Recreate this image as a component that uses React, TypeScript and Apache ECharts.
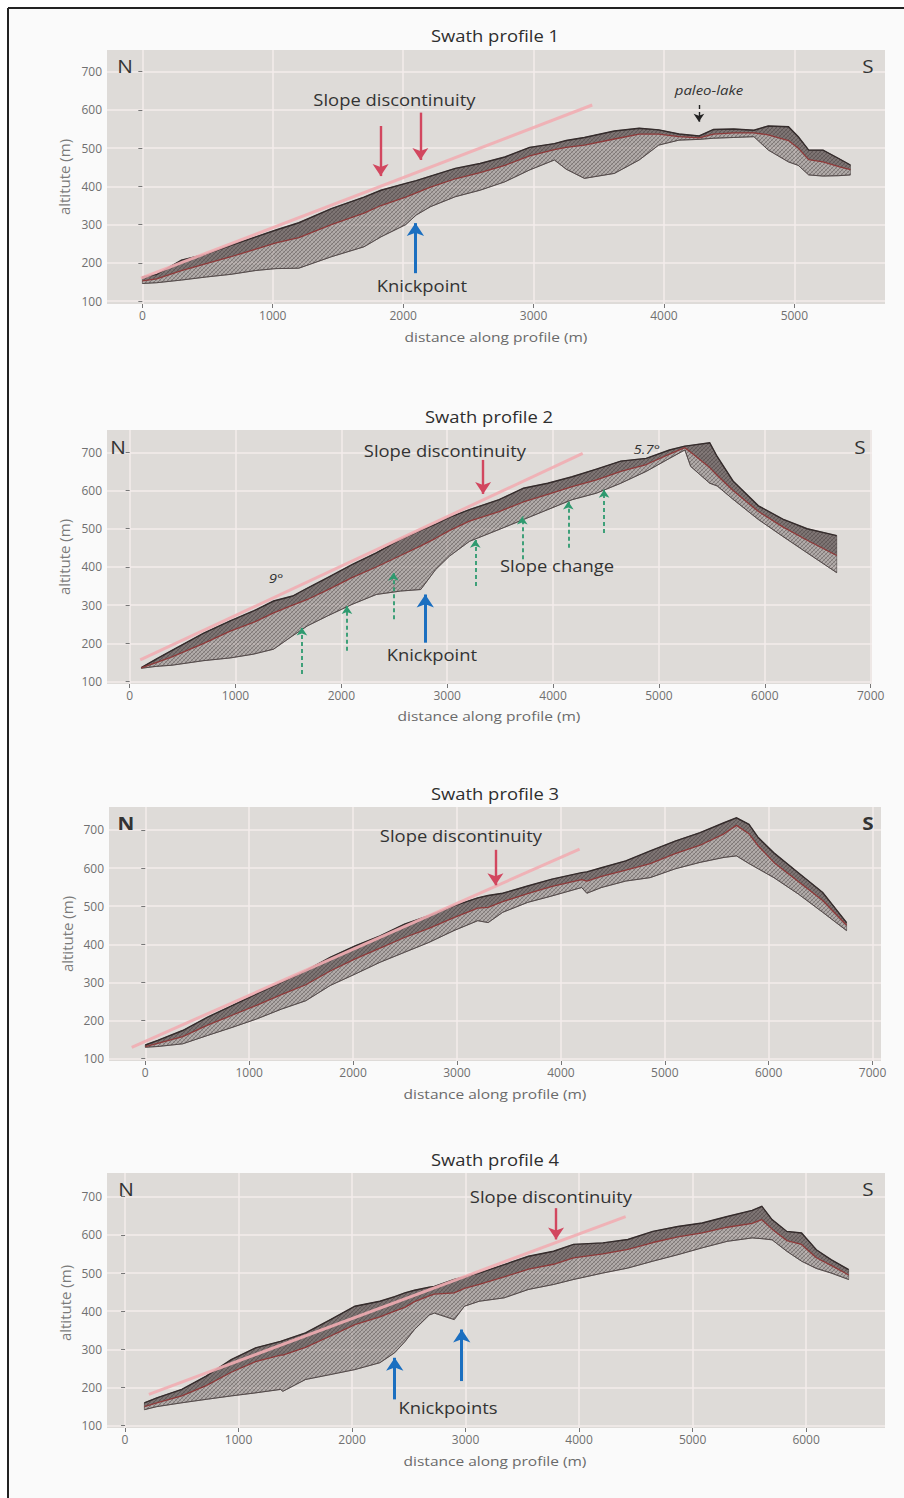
import React, { useEffect, useRef } from "react";
import * as echarts from "echarts";

// ---------------- DATA ----------------
// Swath profile 1
const P1_DIST = [0, 110, 300, 490, 680, 870, 1025, 1200, 1450, 1700, 1830, 2020, 2100, 2210, 2400, 2590, 2780, 2970, 3160, 3250, 3390, 3620, 3810, 3960, 4115, 4270, 4380, 4535, 4690, 4800, 4955, 5030, 5110, 5220, 5340, 5430];
const P1_MAX = [163, 170, 207, 223, 246, 268, 286, 305, 342, 372, 390, 408, 415, 427, 447, 460, 477, 502, 512, 520, 528, 545, 552, 548, 537, 532, 549, 550, 547, 558, 556, 530, 495, 495, 473, 456];
const P1_MIN = [146, 148, 155, 163, 170, 180, 185, 186, 216, 242, 268, 300, 325, 347, 373, 390, 412, 443, 469, 445, 421, 434, 469, 508, 521, 523, 526, 528, 530, 495, 464, 455, 430, 427, 428, 430];
const P1_MEAN = [153, 158, 180, 198, 216, 236, 252, 266, 300, 330, 350, 372, 383, 398, 420, 436, 455, 480, 496, 502, 508, 524, 537, 537, 530, 527, 537, 540, 540, 535, 520, 500, 470, 464, 452, 444];

// Swath profile 2
const P2_DIST = [110, 250, 400, 700, 950, 1170, 1360, 1540, 1680, 1870, 2100, 2330, 2560, 2750, 2890, 3020, 3210, 3490, 3720, 3950, 4180, 4410, 4640, 4880, 5100, 5245, 5300, 5480, 5550, 5700, 5940, 6170, 6400, 6680];
const P2_MAX = [137, 159, 182, 227, 259, 285, 311, 324, 345, 372, 406, 437, 472, 496, 512, 530, 550, 576, 606, 619, 636, 656, 677, 684, 706, 716, 718, 725, 689, 625, 560, 525, 500, 482];
const P2_MIN = [135, 140, 143, 155, 162, 172, 185, 220, 246, 272, 302, 328, 337, 341, 393, 428, 467, 498, 524, 550, 576, 593, 619, 650, 684, 706, 663, 619, 612, 577, 524, 480, 437, 385];
const P2_MEAN = [136, 150, 165, 200, 232, 255, 280, 300, 315, 340, 372, 400, 430, 455, 475, 495, 520, 545, 570, 590, 610, 628, 650, 668, 695, 712, 700, 660, 640, 600, 545, 505, 470, 430];

// Swath profile 3
const P3_DIST = [0, 120, 360, 600, 835, 1070, 1310, 1545, 1780, 2020, 2260, 2495, 2730, 2970, 3200, 3300, 3440, 3680, 3915, 4200, 4250, 4390, 4625, 4860, 5100, 5340, 5570, 5690, 5810, 5900, 6050, 6285, 6520, 6750];
const P3_MAX = [136, 148, 174, 209, 239, 270, 300, 331, 366, 396, 422, 453, 475, 501, 522, 528, 534, 553, 571, 588, 590, 601, 619, 645, 671, 693, 719, 732, 715, 680, 640, 588, 536, 457];
const P3_MIN = [130, 132, 139, 161, 182, 204, 230, 252, 292, 322, 353, 379, 405, 436, 462, 457, 484, 510, 527, 549, 534, 549, 566, 575, 598, 615, 628, 632, 612, 598, 575, 532, 484, 436];
const P3_MEAN = [132, 140, 158, 188, 214, 240, 268, 294, 330, 362, 390, 418, 442, 470, 495, 497, 512, 533, 552, 570, 566, 578, 595, 612, 638, 660, 690, 712, 690, 658, 615, 565, 515, 450];

// Swath profile 4
const P4_DIST = [170, 280, 500, 715, 935, 1150, 1370, 1390, 1590, 1810, 2025, 2245, 2375, 2465, 2550, 2680, 2725, 2900, 2990, 3120, 3340, 3555, 3775, 3950, 4210, 4430, 4650, 4870, 5085, 5305, 5525, 5610, 5700, 5830, 5960, 6090, 6220, 6375];
const P4_MAX = [160, 173, 195, 230, 273, 304, 321, 323, 343, 378, 413, 426, 438, 448, 455, 463, 465, 483, 490, 500, 522, 544, 557, 575, 579, 588, 609, 622, 631, 648, 664, 675, 640, 609, 605, 561, 535, 509];
const P4_MIN = [142, 150, 160, 169, 178, 186, 195, 190, 221, 234, 247, 265, 291, 320, 352, 390, 395, 378, 413, 426, 435, 457, 470, 483, 500, 513, 531, 548, 566, 583, 592, 590, 587, 557, 531, 512, 500, 483];
const P4_MEAN = [150, 160, 178, 205, 240, 268, 285, 285, 305, 335, 365, 385, 400, 410, 425, 440, 445, 448, 460, 470, 490, 510, 523, 540, 550, 562, 580, 595, 605, 620, 630, 640, 615, 585, 575, 540, 520, 495];

// Tick labels
const X_TICKS_1 = [0, 1000, 2000, 3000, 4000, 5000];
const X_TICKS_2 = [0, 1000, 2000, 3000, 4000, 5000, 6000, 7000];
const X_TICKS_3 = [0, 1000, 2000, 3000, 4000, 5000, 6000, 7000];
const X_TICKS_4 = [0, 1000, 2000, 3000, 4000, 5000, 6000];
const Y_TICKS = [100, 200, 300, 400, 500, 600, 700];

// Fitted straight slope lines [distance, altitude]
const P1_FIT = [[-10, 160], [3450, 613]];
const P2_FIT = [[100, 157], [4280, 697]];
const P3_FIT = [[-130, 130], [4180, 650]];
const P4_FIT = [[210, 182], [4410, 648]];

// Arrows [distance, from altitude, to altitude]
const P1_RED = [[1827, 558, 427], [2132, 593, 469]];
const P1_BLUE = [[2094, 173, 304]];
const P1_BLACK = [[4268, 613, 569]];
const P2_RED = [[3339, 680, 591]];
const P2_BLUE = [[2793, 202, 328]];
const P2_GREEN = [[1627, 120, 242], [2053, 181, 298], [2492, 263, 385], [3265, 350, 471], [3709, 420, 532], [4144, 450, 571], [4482, 489, 602]];
const P3_RED = [[3370, 648, 555]];
const P4_RED = [[3797, 670, 588]];
const P4_BLUE = [[2376, 169, 278], [2966, 217, 352]];

// Annotations [text, distance, altitude, style]
const P1_LABELS = [["Slope discontinuity", 1933, 626, "n"], ["Knickpoint", 2144, 139, "n"], ["paleo-lake", 4345, 652, "i"]];
const P2_LABELS = [["Slope discontinuity", 2978, 704, "n"], ["Knickpoint", 2855, 170, "n"], ["Slope change", 4037, 403, "n"], ["9°", 1383, 372, "i"], ["5.7°", 4885, 709, "i"]];
const P3_LABELS = [["Slope discontinuity", 3038, 684, "n"]];
const P4_LABELS = [["Slope discontinuity", 3752, 700, "n"], ["Knickpoints", 2845, 147, "n"]];

const TITLES = ["Swath profile 1", "Swath profile 2", "Swath profile 3", "Swath profile 4"];
const X_NAME = "distance along profile (m)";
const Y_NAME = "altitute (m)";

// ---------------- LAYOUT ----------------
const LAYOUT = [
  { left: 107, top: 50, width: 778, height: 254, xMin: -271, xMax: 5695, yMin: 92.4, yMax: 756.8, title: [495, 36], N: [125, 66], S: [868, 66], xName: [496, 336], yName: [64, 177], bold: false },
  { left: 107, top: 430, width: 765, height: 254, xMin: -214, xMax: 7013, yMin: 93.9, yMax: 758.3, title: [489, 417], N: [118, 447], S: [860, 447], xName: [489, 715], yName: [64, 557], bold: false },
  { left: 109, top: 807, width: 772, height: 254, xMin: -349, xMax: 7081, yMin: 94, yMax: 760.3, title: [495, 794], N: [126, 823], S: [868, 823], xName: [495, 1093], yName: [67, 934], bold: true },
  { left: 107, top: 1173, width: 778, height: 255, xMin: -159, xMax: 6695, yMin: 94, yMax: 762.1, title: [495, 1160], N: [126, 1189], S: [868, 1189], xName: [495, 1460], yName: [65, 1303], bold: false },
];

const PANELS = [
  { dist: P1_DIST, max: P1_MAX, min: P1_MIN, mean: P1_MEAN, fit: P1_FIT, red: P1_RED, blue: P1_BLUE, green: [], black: P1_BLACK, labels: P1_LABELS, xTicks: X_TICKS_1 },
  { dist: P2_DIST, max: P2_MAX, min: P2_MIN, mean: P2_MEAN, fit: P2_FIT, red: P2_RED, blue: P2_BLUE, green: P2_GREEN, black: [], labels: P2_LABELS, xTicks: X_TICKS_2 },
  { dist: P3_DIST, max: P3_MAX, min: P3_MIN, mean: P3_MEAN, fit: P3_FIT, red: P3_RED, blue: [], green: [], black: [], labels: P3_LABELS, xTicks: X_TICKS_3 },
  { dist: P4_DIST, max: P4_MAX, min: P4_MIN, mean: P4_MEAN, fit: P4_FIT, red: P4_RED, blue: P4_BLUE, green: [], black: [], labels: P4_LABELS, xTicks: X_TICKS_4 },
];

const FONT = '"Open Sans", "Noto Sans", "DejaVu Sans", sans-serif';
const STRETCH = 1.15;

function makeHatch(): any {
  try {
    const s = 4;
    const c = document.createElement("canvas");
    c.width = s;
    c.height = s;
    const ctx = c.getContext("2d");
    if (!ctx) return null;
    ctx.lineWidth = 0.7;
    ctx.strokeStyle = "rgba(35,25,25,0.5)";
    ctx.beginPath();
    ctx.moveTo(0, s); ctx.lineTo(s, 0);
    ctx.moveTo(-1, 1); ctx.lineTo(1, -1);
    ctx.moveTo(s - 1, s + 1); ctx.lineTo(s + 1, s - 1);
    ctx.stroke();
    ctx.strokeStyle = "rgba(35,25,25,0.22)";
    ctx.beginPath();
    ctx.moveTo(0, 0); ctx.lineTo(s, s);
    ctx.stroke();
    return { image: c.toDataURL(), repeat: "repeat", imageWidth: s, imageHeight: s };
  } catch (e) {
    return null;
  }
}

function arrowSeries(i: number, arrows: number[][], color: string, width: number, dashed: boolean, size: number) {
  return {
    type: "line",
    xAxisIndex: i,
    yAxisIndex: i,
    data: [],
    silent: true,
    z: 6,
    markLine: {
      silent: true,
      animation: false,
      symbol: ["none", "arrow"],
      symbolSize: size,
      label: { show: false },
      lineStyle: { color, width, type: dashed ? [4, 3] : "solid", opacity: 1 },
      emphasis: { disabled: true },
      data: arrows.map((a) => [{ coord: [a[0], a[1]] }, { coord: [a[0], a[2]] }]),
    },
  };
}

function buildOption(hatch: any) {
  const grid = LAYOUT.map((L) => ({
    left: L.left, top: L.top, width: L.width, height: L.height,
    show: true, backgroundColor: "#dedbd8", borderWidth: 0,
  }));
  const fmt = (v: number) => String(Math.round(v));
  const xAxis = LAYOUT.map((L, i) => ({
    type: "value", gridIndex: i, min: L.xMin, max: L.xMax, splitNumber: 7,
    axisLine: { show: false },
    axisTick: { show: true, length: 4, customValues: PANELS[i].xTicks, lineStyle: { color: "#777", width: 1 } },
    axisLabel: { customValues: PANELS[i].xTicks, formatter: fmt, color: "#707070", fontSize: 12, fontFamily: FONT, margin: 5 },
    splitLine: { show: true, lineStyle: { color: "#f3eceb", width: 1.5 } },
  }));
  const yAxis = LAYOUT.map((L, i) => ({
    type: "value", gridIndex: i, min: L.yMin, max: L.yMax, splitNumber: 7,
    axisLine: { show: false },
    axisTick: { show: true, length: 4, customValues: Y_TICKS, lineStyle: { color: "#777", width: 1 } },
    axisLabel: { customValues: Y_TICKS, formatter: fmt, color: "#707070", fontSize: 12, fontFamily: FONT, margin: 5 },
    splitLine: { show: true, lineStyle: { color: "#f3eceb", width: 1.5 } },
  }));

  const series: any[] = [];
  PANELS.forEach((p, i) => {
    series.push({
      type: "custom",
      xAxisIndex: i, yAxisIndex: i,
      data: [[p.dist[0], p.max[0]]],
      encode: { x: 0, y: 1 },
      clip: true, silent: true, z: 2,
      renderItem: (_params: any, api: any) => {
        const up = p.dist.map((x, k) => api.coord([x, p.max[k]]));
        const lo = p.dist.map((x, k) => api.coord([x, p.min[k]]));
        const me = p.dist.map((x, k) => api.coord([x, p.mean[k]]));
        const outer = up.concat(lo.slice().reverse());
        const children: any[] = [
          { type: "polygon", shape: { points: outer }, style: { fill: "rgba(92,80,80,0.34)", stroke: "rgba(60,50,50,0.7)", lineWidth: 0.7 } },
        ];
        if (hatch) children.push({ type: "polygon", shape: { points: outer }, style: { fill: hatch } });
        children.push(
          { type: "polygon", shape: { points: up.concat(me.slice().reverse()) }, style: { fill: "rgba(55,42,42,0.42)" } },
          { type: "polyline", shape: { points: up }, style: { stroke: "#352c2c", lineWidth: 1.4, fill: "none" } },
          { type: "polyline", shape: { points: lo }, style: { stroke: "#4a4040", lineWidth: 0.8, fill: "none" } },
        );
        return { type: "group", children };
      },
    });
    series.push({
      type: "line", xAxisIndex: i, yAxisIndex: i,
      data: p.dist.map((x, k) => [x, p.mean[k]]),
      showSymbol: false, silent: true, z: 3,
      lineStyle: { color: "#8e3a3a", width: 1.3 },
    });
    series.push({
      type: "line", xAxisIndex: i, yAxisIndex: i,
      data: p.fit,
      showSymbol: false, silent: true, z: 4,
      lineStyle: { color: "#f1adb3", width: 3, opacity: 0.9 },
    });
    if (p.red.length) series.push(arrowSeries(i, p.red, "#d2475f", 2.4, false, 12));
    if (p.blue.length) series.push(arrowSeries(i, p.blue, "#1b6fc0", 3, false, 13));
    if (p.green.length) series.push(arrowSeries(i, p.green, "#2e9a6f", 1.8, true, 8));
    if (p.black.length) series.push(arrowSeries(i, p.black, "#222222", 1.4, true, 8));
  });

  return {
    animation: false,
    backgroundColor: "#fafafa",
    grid, xAxis, yAxis, series,
  };
}

function textEl(x: number, y: number, text: string, size: number, opt: any = {}) {
  return {
    type: "text", x, y, silent: true, z: 100,
    scaleX: opt.scaleX ?? STRETCH,
    rotation: opt.rotation ?? 0,
    style: {
      text, fontSize: size, fontFamily: FONT,
      fontStyle: opt.italic ? "italic" : "normal",
      fontWeight: opt.bold ? "bold" : "normal",
      fill: opt.color ?? "#333",
      align: "center", verticalAlign: "middle",
      textAlign: "center", textVerticalAlign: "middle",
    },
  };
}

export default function App() {
  const ref = useRef<HTMLDivElement>(null);
  useEffect(() => {
    if (!ref.current) return;
    const chart = echarts.init(ref.current, null, { renderer: "svg" });
    chart.setOption(buildOption(makeHatch()) as any);

    const g: any[] = [
      { type: "rect", shape: { x: 0, y: 0, width: 8, height: 1498 }, style: { fill: "#ffffff" }, z: 99, silent: true },
      { type: "rect", shape: { x: 0, y: 0, width: 904, height: 8 }, style: { fill: "#ffffff" }, z: 99, silent: true },
      { type: "line", shape: { x1: 8, y1: 8, x2: 8, y2: 1498 }, style: { stroke: "#222", lineWidth: 2 }, z: 100, silent: true },
      { type: "line", shape: { x1: 8, y1: 8, x2: 904, y2: 8 }, style: { stroke: "#222", lineWidth: 2 }, z: 100, silent: true },
    ];
    LAYOUT.forEach((L, i) => {
      g.push(textEl(L.title[0], L.title[1], TITLES[i], 16, { color: "#2e2e2e" }));
      g.push(textEl(L.N[0], L.N[1], "N", 18, { color: "#333", bold: L.bold }));
      g.push(textEl(L.S[0], L.S[1], "S", 18, { color: "#333", bold: L.bold }));
      g.push(textEl(L.xName[0], L.xName[1], X_NAME, 13.5, { color: "#6a6a6a" }));
      g.push(textEl(L.yName[0], L.yName[1], Y_NAME, 15, { color: "#7a7a7a", rotation: Math.PI / 2, scaleX: 1 }));
      PANELS[i].labels.forEach((lab: any) => {
        const pt = chart.convertToPixel({ gridIndex: i } as any, [lab[1], lab[2]]) as number[];
        if (!pt) return;
        const italic = lab[3] === "i";
        g.push(textEl(pt[0], pt[1], lab[0], italic ? 13 : 16, { italic, color: "#333" }));
      });
    });
    chart.setOption({ graphic: { elements: g } } as any);

    return () => chart.dispose();
  }, []);
  return <div ref={ref} style={{ position: "absolute", left: 0, top: 0, width: 904, height: 1498 }} />;
}
